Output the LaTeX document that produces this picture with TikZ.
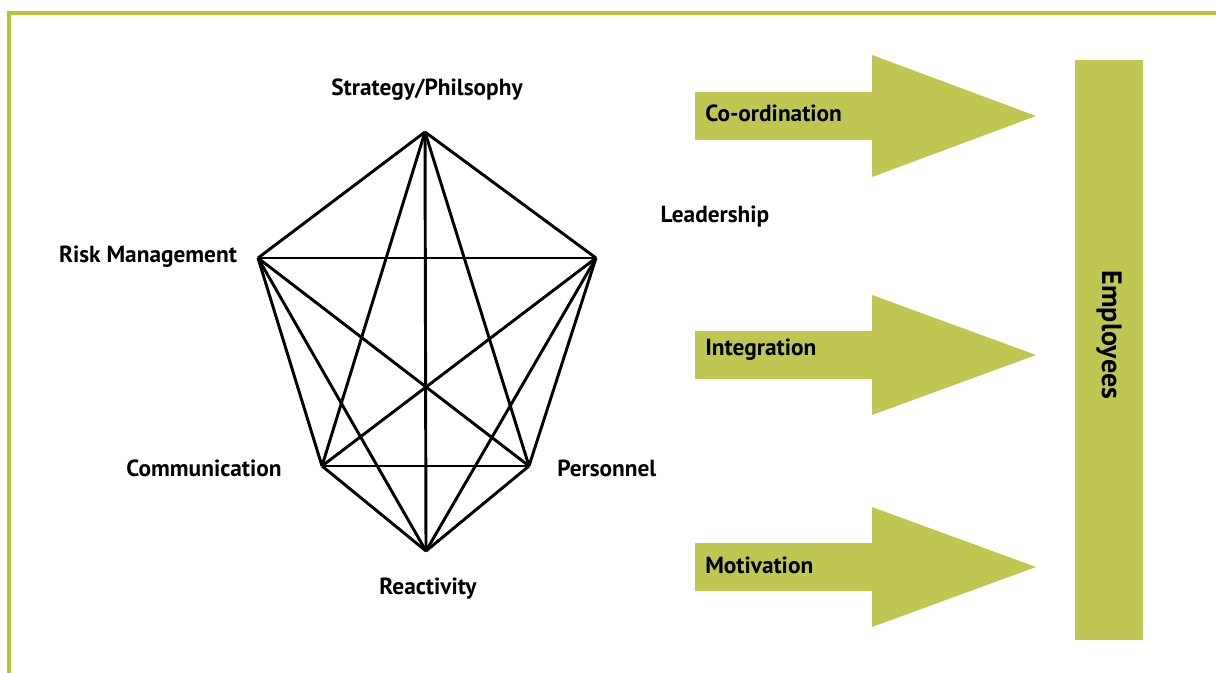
\documentclass[tikz,border=0pt]{standalone}
\usepackage{fontspec}
\setmainfont{PT Sans}
\usepackage{tikz}
\usetikzlibrary{positioning}

\definecolor{leaf}{RGB}{191,199,82}
\definecolor{frame}{RGB}{184,196,52}

\tikzset{
  lbl/.style={font=\bfseries\fontsize{17.5}{20}\selectfont, inner sep=0pt},
  link/.style={line width=2.2pt, line join=round},
  blockarrow/.style={fill=leaf, draw=none}
}

\begin{document}
\begin{tikzpicture}[x=0.75pt,y=0.75pt,yscale=-1]
\useasboundingbox (0,0) rectangle (1216,673);

%Frame, only top and left edge show
\draw [frame, line width=2.5pt] (9,673) -- (9,13) -- (1216,13);

%Corners of the web
\coordinate (s) at (425,132);
\coordinate (r) at (258,258);
\coordinate (l) at (596,258);
\coordinate (c) at (322,466);
\coordinate (p) at (529,466);
\coordinate (a) at (426,551);

%Every corner joined to every other one
\foreach \u/\v in {s/r,s/l,s/c,s/p,s/a,r/l,r/c,r/p,r/a,l/c,l/p,l/a,c/p,c/a,p/a}
  \draw [link] (\u) -- (\v);

%Right Arrow
\draw [blockarrow] (695,92) -- (872,92) -- (872,55) -- (1036,116) -- (872,177) -- (872,140) -- (695,140) -- cycle ;
%Right Arrow
\draw [blockarrow] (695,331) -- (872,331) -- (872,295) -- (1036,355) -- (872,415) -- (872,379) -- (695,379) -- cycle ;
%Right Arrow
\draw [blockarrow] (695,543) -- (872,543) -- (872,507) -- (1036,567) -- (872,627) -- (872,591) -- (695,591) -- cycle ;
%Flowchart: Process
\draw [blockarrow] (1075,60) -- (1143,60) -- (1143,640) -- (1075,640) -- cycle ;

% Text Node
\node (strat) [lbl] at (427,90) {Strategy/Philsophy};
% Text Node
\node (risk) [lbl] at (148,257) {Risk Management};
% Text Node
\node (lead) [lbl] at (715,217) {Leadership};
% Text Node
\node (comm) [lbl] at (204,468) {Communication};
% Text Node
\node (pers) [lbl, anchor=west] at (557,468) {Personnel};
% Text Node
\node (react) [lbl] at (428,589) {Reactivity};
% Text Node
\node (coord) [lbl, anchor=west] at (705,113) {Co-ordination};
% Text Node
\node (integ) [lbl, anchor=west] at (705,350) {Integration};
% Text Node
\node (motiv) [lbl, anchor=west] at (705,565) {Motivation};
% Text Node
\node (staff) [lbl, rotate=-90, font=\bfseries\fontsize{21}{24}\selectfont] at (1109,335) {Employees};

\end{tikzpicture}
\end{document}
